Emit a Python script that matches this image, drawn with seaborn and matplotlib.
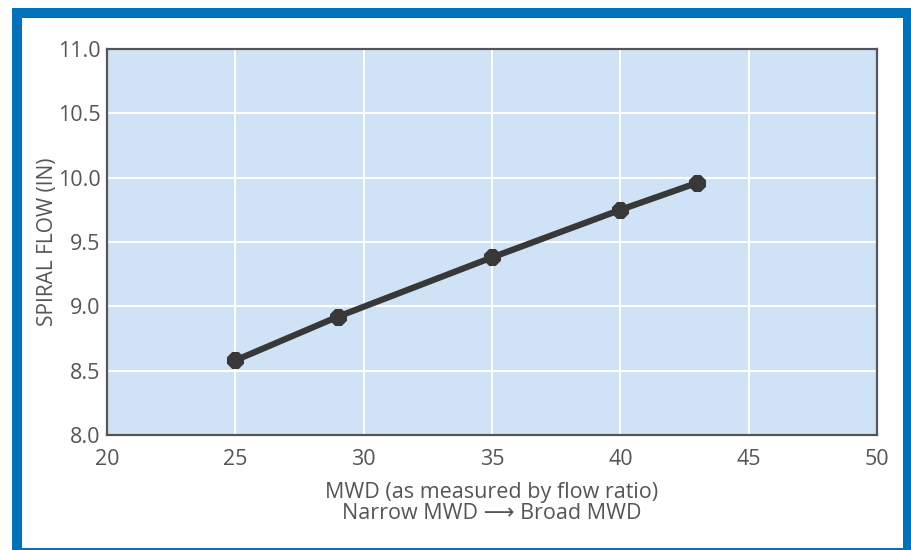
import numpy as np
import pandas as pd
import seaborn as sns
import matplotlib.pyplot as plt
from matplotlib.patches import Rectangle

# datos
mwd = [25, 29, 35, 40, 43]
spiral_flow = [8.58, 8.92, 9.38, 9.75, 9.96]
x_ticks = [20, 25, 30, 35, 40, 45, 50]
y_ticks = [8.0, 8.5, 9.0, 9.5, 10.0, 10.5, 11.0]

df = pd.DataFrame({'mwd': mwd, 'flow': spiral_flow})

sns.set_style('darkgrid', {'axes.facecolor': '#CFE2F6', 'grid.color': 'white',
                           'axes.edgecolor': '#555555'})
plt.rcParams['font.family'] = ['Open Sans', 'DejaVu Sans']

fig = plt.figure(figsize=(9.12, 5.5), dpi=100)
fig.patch.set_facecolor('white')

# marco azul alrededor de la figura (detras del eje)
fig.patches.append(Rectangle((12 / 912, 0), 900 / 912, 1 - 8 / 550, transform=fig.transFigure,
                             facecolor='#0072BC', edgecolor='none', zorder=-10))
fig.patches.append(Rectangle((22 / 912, 2 / 550), 881 / 912, 1 - 20 / 550, transform=fig.transFigure,
                             facecolor='white', edgecolor='none', zorder=-9))

ax = fig.add_axes([107 / 912, 1 - 435 / 550, 770 / 912, 386 / 550])
sns.lineplot(data=df, x='mwd', y='flow', ax=ax, color='#383838', linewidth=4.5,
             marker='8', markersize=12.5, markeredgecolor='#383838')

ax.set_xlim(20, 50)
ax.set_ylim(8, 11)
ax.set_xticks(x_ticks)
ax.set_yticks(y_ticks)
ax.set_yticklabels([f'{v:.1f}' for v in y_ticks])
ax.grid(True, color='white', linewidth=1.5)
for s in ax.spines.values():
    s.set_color('#555555')
    s.set_linewidth(1.6)
ax.tick_params(axis='both', which='both', direction='out', width=1.4,
               color='#555555', labelcolor='#555555', labelsize=15.5)
ax.tick_params(axis='x', pad=1.5, length=8.5)
ax.tick_params(axis='y', pad=1, length=3.6)

ax.set_ylabel('SPIRAL FLOW (IN)', fontsize=15, color='#555555', labelpad=0)
ax.set_xlabel('MWD (as measured by flow ratio)\nNarrow MWD \u27f6 Broad MWD',
              fontsize=15.5, color='#555555', linespacing=0.95, labelpad=9)

plt.savefig('out.png', dpi=100)
